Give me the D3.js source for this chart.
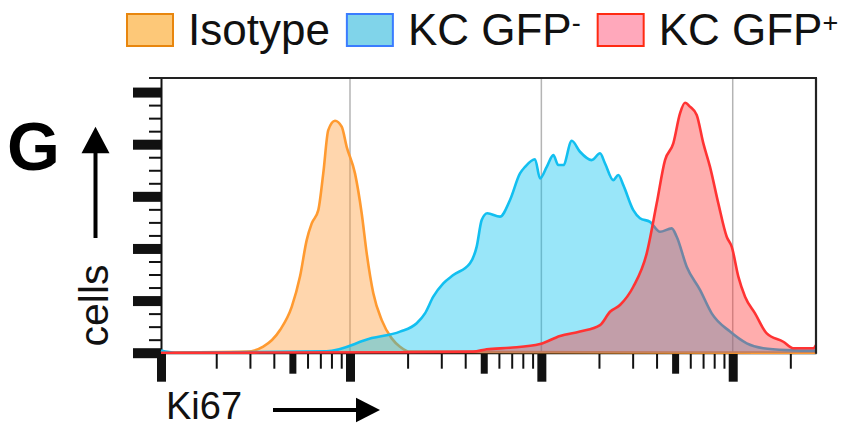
<!DOCTYPE html>
<html>
<head>
<meta charset="utf-8">
<script src="https://cdn.jsdelivr.net/npm/d3@7"></script>
<style>
  body { margin: 0; background: #fff; }
  svg { display: block; font-family: "Liberation Sans", Arial, sans-serif; }
</style>
</head>
<body>
<div id="chart"></div>
<script>

// [Ki67 intensity, cells (% of max)]
var isotype = [
  [102.9, 0], [288, 0.4], [352, 2.3], [431, 8.7], [496, 17.6], [548, 29.2],
  [594, 43.2], [631, 49.6], [683, 54.7], [725, 68.8], [770, 85.4], [835, 89.0],
  [905, 86.7], [961, 79.0], [1062, 68.8], [1151, 53.5], [1223, 38.1], [1324, 22.8],
  [1465, 12.5], [1652, 5.5], [1825, 2.3], [2059, 0.4], [272400, 0]
];

var gfpNeg = [
  [102.9, 0.8], [122, 0], [755, 0.5], [1299, 5.6], [1825, 8.1], [2232, 11.3],
  [2466, 15.1], [2725, 21.5], [3073, 26.6], [3466, 29.8], [4238, 34.3], [4593, 40.7],
  [4879, 50.9], [5219, 53.5], [6079, 52.2], [6859, 58.6], [7734, 68.8], [8215, 71.3],
  [9265, 74.2], [9843, 66.9], [10670, 71.3], [11550, 75.8], [12260, 72.0], [13020, 72.0],
  [14410, 81.3], [15920, 77.1], [18330, 73.9], [20260, 76.5], [21520, 72.6], [23770, 66.2],
  [25250, 68.2], [26810, 64.3], [30230, 54.7], [32770, 51.6], [36970, 50.2], [41690, 46.4],
  [47990, 47.7], [50970, 44.5], [57480, 33.0], [67460, 24.1], [77670, 15.1], [96800, 8.1],
  [118400, 3.6], [144500, 1.7], [191500, 1.0], [262900, 0.8], [272400, 0.8]
];

var gfpPos = [
  [102.9, 0], [1825, 0.2], [4393, 0.4], [5182, 1.3], [6859, 1.9], [9843, 3.3],
  [12520, 6.4], [15920, 8.1], [20260, 10.6], [22840, 15.7], [25760, 18.3], [30230, 25.3],
  [35530, 38.1], [40070, 57.3], [44290, 73.9], [48920, 80.3], [53040, 91.8], [56320, 95.9],
  [59830, 94.4], [64840, 91.2], [70230, 80.3], [76100, 71.3], [84100, 57.3], [93030, 44.5],
  [98800, 40.7], [107000, 29.2], [116000, 21.5], [130800, 15.1], [150600, 7.4], [183800, 4.2],
  [207400, 1.7], [263800, 1.7], [272400, 2.9]
];

var seriesNames = ["Isotype", "KC GFP", "KC GFP"];
var seriesSups = ["", "-", "+"];

var xMajorTicks = [100, 1000, 10000, 100000];
var xMidTicks = [500, 5000, 50000];
var xMinorTicks = [200, 300, 400, 600, 700, 800, 900,
  2000, 3000, 4000, 6000, 7000, 8000, 9000,
  20000, 30000, 40000, 60000, 70000, 80000, 90000, 200000];
var gridTicks = [1000, 10000, 100000];

var yMajorTicks = [0, 20, 40, 60, 80, 100];
var yMinorTicks = [5, 10, 15, 25, 30, 35, 45, 50, 55, 65, 70, 75, 85, 90, 95];

var margin = { top: 78, right: 26, bottom: 76.3, left: 161 };
var width = 842 - margin.left - margin.right;
var height = 429 - margin.top - margin.bottom;

var svgRoot = d3.select("#chart").append("svg")
  .attr("width", 842)
  .attr("height", 429);

var svg = svgRoot.append("g")
  .attr("transform", "translate(" + margin.left + "," + margin.top + ")");

var x = d3.scaleLog()
  .domain([102.9, 272400])
  .range([0, width])
  .clamp(true);

var y = d3.scaleLinear()
  .domain([0, 105.4])
  .range([height, 0]);

// grid lines at the decades
svg.selectAll(".grid")
  .data(gridTicks)
  .enter().append("line")
  .attr("class", "grid")
  .attr("x1", function(d){ return x(d); })
  .attr("x2", function(d){ return x(d); })
  .attr("y1", 0)
  .attr("y2", height)
  .attr("stroke", "#b4b4b4")
  .attr("stroke-width", 1.5);

// x axis (three tick classes)
function xAxis(values, size, thick, keepDomain) {
  var g = svg.append("g")
    .attr("transform", "translate(0," + height + ")")
    .attr("color", "#111")
    .call(d3.axisBottom(x).tickValues(values).tickSize(size).tickSizeOuter(0).tickFormat(""));
  g.selectAll(".tick line").attr("stroke-width", thick);
  if (keepDomain) g.select(".domain").attr("stroke-width", 2);
  else g.select(".domain").remove();
}
xAxis(xMinorTicks, 16, 2, true);
xAxis(xMidTicks, 21, 7, false);
xAxis(xMajorTicks, 29, 9, false);

// y axis
function yAxis(values, size, thick, keepDomain) {
  var g = svg.append("g")
    .attr("color", "#111")
    .call(d3.axisLeft(y).tickValues(values).tickSize(size).tickSizeOuter(0).tickFormat(""));
  g.selectAll(".tick line").attr("stroke-width", thick);
  if (keepDomain) g.select(".domain").attr("stroke-width", 2);
  else g.select(".domain").remove();
}
yAxis(yMinorTicks, 12, 2, true);
yAxis(yMajorTicks, 28, 10, false);

// histograms
var area = d3.area()
  .x(function(d){ return x(d[0]); })
  .y0(height)
  .y1(function(d){ return y(d[1]); })
  .curve(d3.curveMonotoneX);

var line = d3.line()
  .x(function(d){ return x(d[0]); })
  .y(function(d){ return y(d[1]); })
  .curve(d3.curveMonotoneX);

var series = [
  { data: isotype, fill: "#ff9933", stroke: "#ff9a30" },
  { data: gfpNeg, fill: "#00c0f0", stroke: "#12bff0" },
  { data: gfpPos, fill: "#ff3232", stroke: "#ff3333" }
];

series.forEach(function(s){
  svg.append("path")
    .datum(s.data)
    .attr("d", area)
    .attr("fill", s.fill)
    .attr("fill-opacity", 0.4);
  svg.append("path")
    .datum(s.data)
    .attr("d", line)
    .attr("fill", "none")
    .attr("stroke", s.stroke)
    .attr("stroke-width", 2.6)
    .attr("stroke-linejoin", "round");
});

// frame: top and right
svg.append("line")
  .attr("x1", -12).attr("x2", width + 1)
  .attr("y1", 0).attr("y2", 0)
  .attr("stroke", "#222").attr("stroke-width", 2);
svg.append("line")
  .attr("x1", width).attr("x2", width)
  .attr("y1", 0).attr("y2", height + 1)
  .attr("stroke", "#222").attr("stroke-width", 2.2);

// legend
var legendFill = ["#fdc878", "#80d4ea", "#ffa8bb"];
var legendStroke = ["#e8860e", "#3a7cff", "#ff2a12"];
var cursor = 127;
seriesNames.forEach(function(name, i){
  svgRoot.append("rect")
    .attr("x", cursor).attr("y", 14)
    .attr("width", 46).attr("height", 32)
    .attr("fill", legendFill[i])
    .attr("stroke", legendStroke[i])
    .attr("stroke-width", 2);
  var t = svgRoot.append("text")
    .attr("x", cursor + 61)
    .attr("y", 45)
    .attr("font-size", 44)
    .attr("fill", "#111")
    .text(name);
  if (seriesSups[i]) {
    t.append("tspan")
      .attr("dy", -13)
      .attr("font-size", 27)
      .text(seriesSups[i]);
  }
  cursor = cursor + 61 + t.node().getComputedTextLength() + 17;
});

// panel letter and axis titles
svgRoot.append("text")
  .attr("x", 7).attr("y", 170)
  .attr("font-size", 68)
  .attr("font-weight", "bold")
  .attr("fill", "#000")
  .text("G");

svgRoot.append("text")
  .attr("transform", "translate(108,305.5)rotate(-90)")
  .attr("text-anchor", "middle")
  .attr("font-size", 41)
  .attr("fill", "#111")
  .text("cells");

svgRoot.append("text")
  .attr("x", 166).attr("y", 419)
  .attr("font-size", 38)
  .attr("fill", "#111")
  .text("Ki67");

// arrows
svgRoot.append("line")
  .attr("x1", 95.5).attr("x2", 95.5)
  .attr("y1", 238).attr("y2", 150)
  .attr("stroke", "#000").attr("stroke-width", 4);
svgRoot.append("path")
  .attr("d", "M95.5,126.7L81.5,153.3L109.5,153.3Z")
  .attr("fill", "#000");

svgRoot.append("line")
  .attr("x1", 273).attr("x2", 359)
  .attr("y1", 410).attr("y2", 410)
  .attr("stroke", "#000").attr("stroke-width", 4);
svgRoot.append("path")
  .attr("d", "M380,410L356,397.7L356,422.3Z")
  .attr("fill", "#000");

</script>
</body>
</html>
